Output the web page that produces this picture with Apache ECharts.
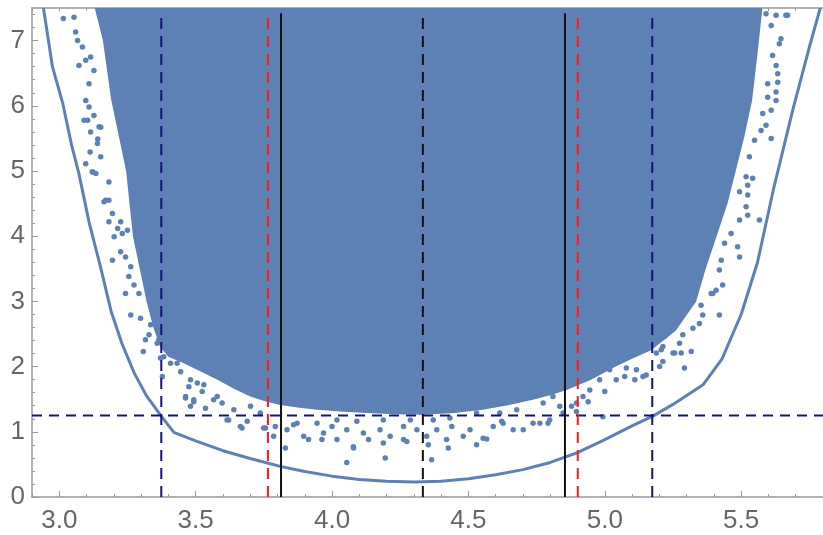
<!DOCTYPE html>
<html>
<head>
<meta charset="utf-8">
<script src="https://cdn.jsdelivr.net/npm/echarts@6/dist/echarts.min.js"></script>
<style>
  html, body { margin: 0; padding: 0; background: #fff; }
  #chart { width: 823px; height: 535px; }
</style>
</head>
<body>
<div id="chart"></div>
<script>
// lower bound curve
const curveX = [2.942, 2.975, 3.012, 3.045, 3.072, 3.11, 3.15, 3.19, 3.23, 3.275, 3.32, 3.374, 3.42, 3.5, 3.6, 3.7, 3.81, 3.9, 4.0, 4.1, 4.2, 4.3, 4.4, 4.5, 4.6, 4.7, 4.8, 4.9, 5.0, 5.1, 5.176, 5.25, 5.36, 5.43, 5.5, 5.56, 5.62, 5.69, 5.75, 5.79];
const curveY = [7.5, 6.6, 6.05, 5.4, 4.96, 4.2, 3.55, 2.85, 2.35, 1.9, 1.55, 1.24, 0.99, 0.86, 0.71, 0.59, 0.47, 0.39, 0.32, 0.27, 0.24, 0.23, 0.24, 0.28, 0.34, 0.42, 0.53, 0.68, 0.88, 1.09, 1.24, 1.42, 1.72, 2.12, 2.8, 3.6, 4.75, 5.95, 6.9, 7.5];

// edge of the dense point cloud (filled up to the top)
const cloudX = [3.13, 3.16, 3.19, 3.22, 3.245, 3.27, 3.30, 3.32, 3.345, 3.37, 3.40, 3.456, 3.52, 3.58, 3.64, 3.70, 3.76, 3.81, 3.88, 3.945, 4.03, 4.128, 4.23, 4.335, 4.45, 4.553, 4.65, 4.736, 4.80, 4.86, 4.95, 5.04, 5.10, 5.17, 5.26, 5.335, 5.37, 5.41, 5.45, 5.48, 5.51, 5.54, 5.56, 5.578];
const cloudY = [7.5, 7.0, 6.1, 5.5, 5.0, 4.0, 3.4, 3.0, 2.6, 2.3, 2.15, 2.05, 1.92, 1.8, 1.66, 1.54, 1.46, 1.41, 1.37, 1.34, 1.31, 1.29, 1.27, 1.26, 1.29, 1.34, 1.41, 1.49, 1.56, 1.64, 1.8, 2.0, 2.12, 2.25, 2.55, 3.0, 3.5, 4.0, 4.5, 5.0, 5.5, 6.08, 6.8, 7.5];

// stray points outside the dense cloud: left flank
const leftX = [3.015, 3.054, 3.060, 3.067, 3.085, 3.097, 3.072, 3.115, 3.127, 3.109, 3.097, 3.109, 3.127, 3.091, 3.115, 3.146, 3.140, 3.113, 3.152, 3.097, 3.121, 3.134, 3.182, 3.164, 3.182, 3.195, 3.182, 3.225, 3.201, 3.231, 3.250, 3.225, 3.195, 3.243, 3.262, 3.255, 3.243, 3.292, 3.274, 3.262, 3.298, 3.335, 3.329, 3.316, 3.365, 3.308, 3.371, 3.378, 3.408, 3.432, 3.463, 3.493, 3.481, 3.475, 3.506, 3.170, 3.214, 3.152, 3.141, 3.104, 3.123];
const leftY = [7.34, 7.36, 7.13, 7.00, 6.90, 6.70, 6.62, 6.75, 6.54, 6.34, 6.08, 5.98, 5.85, 5.78, 5.60, 5.68, 5.42, 5.29, 5.22, 5.11, 4.99, 4.96, 4.83, 4.53, 4.55, 4.35, 4.22, 4.22, 3.99, 4.04, 4.09, 3.76, 3.63, 3.68, 3.53, 3.38, 3.12, 3.12, 3.25, 2.79, 2.74, 2.64, 2.49, 2.41, 2.41, 2.23, 2.13, 1.85, 2.21, 2.05, 1.54, 1.49, 1.39, 1.69, 1.75, 4.55, 4.12, 5.67, 5.49, 5.78, 4.98];

// stray points below the dense cloud
const bottomX = [3.359, 3.383, 3.408, 3.445, 3.463, 3.493, 3.481, 3.524, 3.530, 3.579, 3.597, 3.536, 3.621, 3.670, 3.701, 3.689, 3.756, 3.792, 3.786, 3.737, 3.640, 3.566, 3.615, 3.664, 3.749, 3.829,
  3.835, 3.859, 3.896, 3.914, 3.969, 4.000, 4.018, 4.054, 4.079, 4.115, 4.134, 4.176, 4.188, 4.213, 4.262, 4.274, 4.311, 4.347, 4.353, 4.384, 4.420, 4.439, 4.481, 4.506, 4.554, 4.591, 4.627, 4.664, 4.701, 4.737, 4.762, 4.798,
  4.054, 4.195, 4.365, 4.426, 4.530, 4.567, 3.963, 4.078, 4.262,
  4.810, 4.774, 4.677, 4.615, 4.530, 4.432, 4.371, 4.287, 4.188, 4.091, 4.018, 3.945, 3.872, 4.622, 4.792, 4.878, 4.896, 4.993, 4.939];
const bottomY = [2.36, 2.15, 2.05, 1.92, 1.52, 1.46, 1.80, 1.62, 1.72, 1.54, 1.44, 1.36, 1.18, 1.06, 1.39, 1.16, 1.06, 1.08, 0.93, 1.29, 1.34, 1.49, 1.18, 1.08, 1.06, 0.75,
  1.03, 1.11, 0.93, 0.88, 0.98, 1.08, 0.88, 1.03, 0.75, 0.98, 0.88, 1.03, 0.83, 0.93, 1.08, 0.85, 1.03, 0.93, 0.80, 1.03, 0.88, 1.08, 0.93, 1.03, 0.90, 1.08, 1.13, 1.03, 1.03, 1.13, 1.13, 1.18,
  0.53, 0.60, 0.57, 0.75, 0.80, 0.89, 0.88, 0.77, 0.88,
  1.54, 1.44, 1.34, 1.29, 1.29, 1.21, 1.18, 1.18, 1.18, 1.16, 1.18, 1.13, 1.13, 1.16, 1.13, 1.39, 1.31, 1.23, 1.46];

// stray points outside the dense cloud: right flank
const rightX = [5.591, 5.628, 5.664, 5.610, 5.646, 5.640, 5.615, 5.628, 5.634, 5.634, 5.597, 5.628, 5.628, 5.597, 5.610, 5.579, 5.591, 5.610, 5.573, 5.549, 5.530, 5.518, 5.542, 5.524, 5.494, 5.524, 5.518, 5.524, 5.567, 5.494, 5.487, 5.494, 5.463, 5.439, 5.427, 5.420, 5.432, 5.408, 5.390, 5.353, 5.420, 5.359, 5.347, 5.323, 5.286, 5.274, 5.317, 5.280, 5.250, 5.292, 5.213, 5.201, 5.207, 5.140,
  4.835, 4.847, 4.896, 4.920, 4.945, 4.981, 5.018, 5.042, 5.079, 5.116, 5.152, 5.189, 5.213, 5.219, 5.11, 5.073, 5.0, 5.256, 5.396, 5.670];
const rightY = [7.41, 7.39, 7.39, 7.23, 7.03, 6.95, 6.77, 6.62, 6.49, 6.36, 6.34, 6.21, 6.08, 6.13, 5.93, 5.88, 5.70, 5.50, 5.62, 5.47, 5.22, 4.91, 4.89, 4.78, 4.68, 4.63, 4.45, 4.32, 4.25, 4.25, 3.84, 3.68, 4.04, 3.89, 3.63, 3.48, 3.25, 3.17, 3.12, 2.94, 2.79, 2.79, 2.66, 2.59, 2.49, 2.36, 2.23, 2.21, 2.21, 1.98, 2.08, 2.00, 2.26, 1.85,
  1.39, 1.29, 1.44, 1.54, 1.64, 1.80, 1.95, 1.80, 1.98, 1.95, 1.87, 2.21, 2.31, 2.46, 1.80, 1.85, 1.62, 2.21, 3.12, 7.39];

// reference lines
const navyX = [3.374, 5.174];
const redX = [3.765, 4.901];
const blackSolidX = [3.813, 4.854];
const blackDashX = [4.333];
const hLineY = 1.25;

const xLabels = [3.0, 3.5, 4.0, 4.5, 5.0, 5.5];
const yLabels = [0, 1, 2, 3, 4, 5, 6, 7];
const xMinor = [];
for (let v = 29; v <= 58; v++) xMinor.push(v / 10);
const yMinor = [];
for (let v = 0; v <= 37; v++) yMinor.push(v / 5);

const blue = '#5e81b5';
const axisGrey = '#999999';

const chart = echarts.init(document.getElementById('chart'));

function zip(xs, ys) {
  return xs.map((x, i) => [x, ys[i]]);
}

function vline(x, color, type, width) {
  return {
    type: 'line',
    data: [[x, 0], [x, 7.42]],
    showSymbol: false,
    silent: true,
    z: 5,
    lineStyle: { color: color, type: type, width: width }
  };
}

function stray(xs, ys) {
  return {
    type: 'scatter',
    data: zip(xs, ys),
    symbolSize: 5.5,
    itemStyle: { color: blue, opacity: 1 },
    z: 3
  };
}

const series = [
  {
    type: 'line',
    data: zip(cloudX, cloudY),
    showSymbol: false,
    silent: true,
    lineStyle: { width: 0 },
    areaStyle: { color: blue, opacity: 1, origin: 'end' },
    z: 2
  },
  stray(leftX, leftY),
  stray(bottomX, bottomY),
  stray(rightX, rightY),
  {
    type: 'line',
    data: zip(curveX, curveY),
    showSymbol: false,
    lineStyle: { color: blue, width: 3 },
    z: 4
  },
  {
    type: 'line',
    data: [[2.9, hLineY], [5.8, hLineY]],
    showSymbol: false,
    silent: true,
    z: 5,
    lineStyle: { color: '#141478', type: [10, 7], width: 2 }
  }
];
navyX.forEach(x => series.push(vline(x, '#141478', [11, 7], 2)));
redX.forEach(x => series.push(vline(x, '#ff1a1a', [11, 7], 2)));
blackDashX.forEach(x => series.push(vline(x, '#111111', [11, 7], 2)));
blackSolidX.forEach(x => series.push(vline(x, '#111111', 'solid', 2)));

const labelFont = {
  fontFamily: 'Liberation Sans, Arial, sans-serif',
  fontSize: 26,
  color: '#666666'
};

chart.setOption({
  animation: false,
  grid: { left: 32, right: 0, top: 8, bottom: 38 },
  xAxis: [
    {
      type: 'value', min: 2.9, max: 5.8,
      axisLine: { lineStyle: { color: axisGrey, width: 1.5 } },
      axisTick: { inside: true, length: 6, lineStyle: { color: axisGrey }, customValues: xLabels },
      axisLabel: Object.assign({ margin: 11, customValues: xLabels, formatter: v => v.toFixed(1) }, labelFont),
      splitLine: { show: false }
    },
    {
      type: 'value', min: 2.9, max: 5.8, position: 'bottom',
      axisLine: { show: false },
      axisTick: { inside: true, length: 3, lineStyle: { color: axisGrey }, customValues: xMinor },
      axisLabel: { show: false },
      splitLine: { show: false }
    },
    {
      type: 'value', min: 2.9, max: 5.8, position: 'top',
      axisLine: { lineStyle: { color: axisGrey, width: 1.5 } },
      axisTick: { inside: true, length: 3, lineStyle: { color: axisGrey }, customValues: xMinor },
      axisLabel: { show: false },
      splitLine: { show: false }
    }
  ],
  yAxis: [
    {
      type: 'value', min: 0, max: 7.5,
      axisLine: { show: true, lineStyle: { color: axisGrey, width: 1.5 } },
      axisTick: { show: true, inside: true, length: 6, lineStyle: { color: axisGrey }, customValues: yLabels },
      axisLabel: Object.assign({ margin: 7, customValues: yLabels }, labelFont),
      splitLine: { show: false }
    },
    {
      type: 'value', min: 0, max: 7.5, position: 'left',
      axisLine: { show: false },
      axisTick: { show: true, inside: true, length: 3, lineStyle: { color: axisGrey }, customValues: yMinor },
      axisLabel: { show: false },
      splitLine: { show: false }
    }
  ],
  series: series
});
</script>
</body>
</html>
